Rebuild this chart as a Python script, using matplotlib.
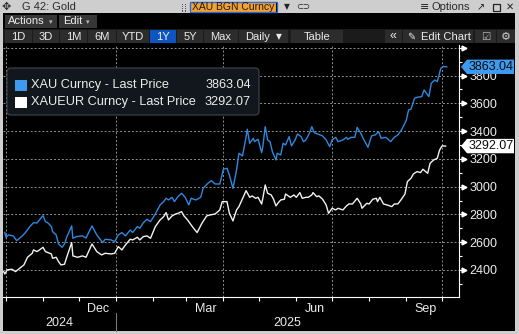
import matplotlib
matplotlib.use("Agg")
import matplotlib.pyplot as plt
import matplotlib.dates as mdates
import matplotlib.ticker as mticker
from matplotlib.colors import LinearSegmentedColormap
from matplotlib.patches import Rectangle, Polygon, FancyBboxPatch
from matplotlib.transforms import ScaledTranslation
import numpy as np
import pandas as pd

plt.rcParams['font.family'] = ['Liberation Sans', 'DejaVu Sans']

# ---------------------------------------------------------------- data
xau_dates = [
    "2024-09-30", "2024-10-01", "2024-10-03", "2024-10-07", "2024-10-10", "2024-10-14",
    "2024-10-17", "2024-10-21", "2024-10-24", "2024-10-27", "2024-10-29", "2024-11-01",
    "2024-11-03", "2024-11-05", "2024-11-08", "2024-11-09", "2024-11-12", "2024-11-14",
    "2024-11-17", "2024-11-19", "2024-11-21", "2024-11-25", "2024-11-26", "2024-11-29",
    "2024-12-04", "2024-12-07", "2024-12-12", "2024-12-16", "2024-12-18", "2024-12-21",
    "2024-12-23", "2024-12-28", "2024-12-31", "2025-01-03", "2025-01-06", "2025-01-09",
    "2025-01-13", "2025-01-15", "2025-01-19", "2025-01-21", "2025-01-24", "2025-01-27",
    "2025-01-30", "2025-02-03", "2025-02-07", "2025-02-10", "2025-02-12", "2025-02-14",
    "2025-02-17", "2025-02-19", "2025-02-22", "2025-02-25", "2025-02-28", "2025-03-03",
    "2025-03-05", "2025-03-09", "2025-03-13", "2025-03-15", "2025-03-19", "2025-03-22",
    "2025-03-25", "2025-03-29", "2025-04-01", "2025-04-04", "2025-04-06", "2025-04-09",
    "2025-04-12", "2025-04-14", "2025-04-17", "2025-04-20", "2025-04-21", "2025-04-23",
    "2025-04-26", "2025-04-27", "2025-04-30", "2025-05-03", "2025-05-04", "2025-05-06",
    "2025-05-08", "2025-05-10", "2025-05-12", "2025-05-15", "2025-05-16", "2025-05-19",
    "2025-05-21", "2025-05-23", "2025-05-26", "2025-05-28", "2025-05-31", "2025-06-02",
    "2025-06-05", "2025-06-07", "2025-06-09", "2025-06-12", "2025-06-14", "2025-06-16",
    "2025-06-19", "2025-06-23", "2025-06-26", "2025-06-29", "2025-07-01", "2025-07-04",
    "2025-07-06", "2025-07-10", "2025-07-13", "2025-07-14", "2025-07-17", "2025-07-20",
    "2025-07-22", "2025-07-25", "2025-07-27", "2025-07-31", "2025-08-03", "2025-08-06",
    "2025-08-09", "2025-08-11", "2025-08-15", "2025-08-19", "2025-08-22", "2025-08-25",
    "2025-08-28", "2025-09-01", "2025-09-03", "2025-09-05", "2025-09-08", "2025-09-10",
    "2025-09-14", "2025-09-16", "2025-09-20", "2025-09-22", "2025-09-25", "2025-09-27",
    "2025-09-30", "2025-10-02", "2025-10-05",
]
xau_values = [
    2670, 2635, 2652, 2645, 2611, 2640,
    2666, 2712, 2740, 2738, 2760, 2791,
    2748, 2740, 2712, 2676, 2652, 2587,
    2563, 2587, 2640, 2717, 2628, 2640,
    2645, 2630, 2717, 2652, 2630, 2597,
    2621, 2616, 2604, 2652, 2669, 2645,
    2688, 2669, 2712, 2700, 2740, 2765,
    2748, 2803, 2868, 2892, 2916, 2904,
    2923, 2892, 2928, 2952, 2923, 2868,
    2916, 2904, 2923, 2988, 3024, 3043,
    3019, 3019, 3125, 3132, 3084, 2988,
    3120, 3240, 3221, 3360, 3413, 3312,
    3348, 3324, 3341, 3245, 3288, 3432,
    3336, 3324, 3252, 3192, 3240, 3228,
    3312, 3300, 3360, 3293, 3336, 3379,
    3360, 3324, 3336, 3384, 3432, 3389,
    3379, 3365, 3336, 3288, 3336, 3355,
    3324, 3336, 3355, 3341, 3355, 3355,
    3427, 3384, 3348, 3283, 3365, 3372,
    3396, 3348, 3355, 3324, 3355, 3372,
    3408, 3475, 3552, 3557, 3636, 3643,
    3648, 3696, 3648, 3744, 3768, 3756,
    3852, 3865, 3863.04,
]

xaueur_dates = [
    "2024-09-29", "2024-09-30", "2024-10-02", "2024-10-06", "2024-10-09", "2024-10-10",
    "2024-10-14", "2024-10-16", "2024-10-19", "2024-10-23", "2024-10-24", "2024-10-27",
    "2024-10-29", "2024-11-01", "2024-11-03", "2024-11-05", "2024-11-08", "2024-11-09",
    "2024-11-12", "2024-11-14", "2024-11-16", "2024-11-19", "2024-11-21", "2024-11-25",
    "2024-11-26", "2024-11-30", "2024-12-04", "2024-12-07", "2024-12-12", "2024-12-16",
    "2024-12-20", "2024-12-23", "2024-12-28", "2024-12-31", "2025-01-03", "2025-01-06",
    "2025-01-09", "2025-01-13", "2025-01-15", "2025-01-19", "2025-01-21", "2025-01-24",
    "2025-01-27", "2025-01-30", "2025-02-03", "2025-02-07", "2025-02-10", "2025-02-12",
    "2025-02-14", "2025-02-17", "2025-02-20", "2025-02-22", "2025-02-25", "2025-02-27",
    "2025-03-02", "2025-03-06", "2025-03-10", "2025-03-14", "2025-03-18", "2025-03-21",
    "2025-03-25", "2025-03-29", "2025-03-31", "2025-04-04", "2025-04-06", "2025-04-09",
    "2025-04-12", "2025-04-14", "2025-04-18", "2025-04-20", "2025-04-23", "2025-04-25",
    "2025-04-28", "2025-04-30", "2025-05-03", "2025-05-04", "2025-05-06", "2025-05-08",
    "2025-05-11", "2025-05-13", "2025-05-15", "2025-05-17", "2025-05-19", "2025-05-22",
    "2025-05-23", "2025-05-27", "2025-05-30", "2025-06-01", "2025-06-04", "2025-06-06",
    "2025-06-09", "2025-06-11", "2025-06-14", "2025-06-15", "2025-06-18", "2025-06-20",
    "2025-06-23", "2025-06-26", "2025-06-28", "2025-07-01", "2025-07-04", "2025-07-06",
    "2025-07-10", "2025-07-13", "2025-07-15", "2025-07-18", "2025-07-22", "2025-07-25",
    "2025-07-26", "2025-07-30", "2025-08-01", "2025-08-04", "2025-08-07", "2025-08-08",
    "2025-08-10", "2025-08-13", "2025-08-16", "2025-08-20", "2025-08-22", "2025-08-25",
    "2025-08-28", "2025-08-31", "2025-09-02", "2025-09-05", "2025-09-07", "2025-09-10",
    "2025-09-13", "2025-09-15", "2025-09-19", "2025-09-21", "2025-09-24", "2025-09-27",
    "2025-09-29", "2025-10-01", "2025-10-04",
]
xaueur_values = [
    2388, 2371, 2400, 2405, 2388, 2395,
    2424, 2436, 2491, 2520, 2544, 2532,
    2544, 2563, 2532, 2525, 2515, 2484,
    2491, 2460, 2436, 2441, 2496, 2597,
    2501, 2491, 2501, 2491, 2587, 2532,
    2508, 2520, 2515, 2520, 2568, 2544,
    2580, 2621, 2616, 2635, 2616, 2640,
    2645, 2628, 2712, 2760, 2784, 2813,
    2760, 2789, 2803, 2808, 2820, 2789,
    2760, 2712, 2669, 2736, 2789, 2796,
    2803, 2832, 2892, 2892, 2808, 2753,
    2832, 2856, 2933, 2971, 2923, 2933,
    2916, 2923, 2875, 2916, 3012, 2952,
    2940, 2909, 2861, 2885, 2904, 2909,
    2947, 2923, 2940, 2923, 2957, 2916,
    2923, 2923, 2940, 2957, 2928, 2933,
    2909, 2868, 2808, 2844, 2832, 2844,
    2832, 2861, 2875, 2875, 2916, 2875,
    2844, 2880, 2875, 2909, 2916, 2892,
    2923, 2875, 2868, 2856, 2875, 2875,
    2909, 2947, 3036, 3060, 3091, 3108,
    3101, 3125, 3096, 3168, 3192, 3204,
    3264, 3293, 3292.07,
]

series_names = ["XAU Curncy - Last Price", "XAUEUR Curncy - Last Price"]
ticker_text = "XAU BGN Curncy"
window_title = "G 42: Gold"
range_buttons = ["1D", "3D", "1M", "6M", "YTD", "1Y", "5Y", "Max"]
active_range = "1Y"

# ---------------------------------------------------------------- style
W, H = 519, 334
BLUE_LINE = "#2e88df"
BLUE_TAG = "#3d9aee"
WHITE_LINE = "#f2f2f2"
TXT = "#ececec"
GRID = "#8b9296"

fig = plt.figure(figsize=(W / 100, H / 100), dpi=100)
fig.patch.set_facecolor("#cecece")

# window chrome, in pixel coordinates (y downwards)
ui = fig.add_axes([0, 0, 1, 1], zorder=0)
ui.axis("off")


def rect(axh, x0, y0, x1, y1, color, **kw):
    axh.add_patch(Rectangle((x0, y0), x1 - x0, y1 - y0, facecolor=color,
                            edgecolor=kw.pop("edgecolor", "none"), **kw))


rect(ui, 3, 13, 515, 331, "black")
cmap = LinearSegmentedColormap.from_list("panel", ["#22333f", "#121b22", "#040607"])
ui.imshow(np.linspace(0, 1, 256)[:, None], extent=(3, 515, 297, 45), cmap=cmap,
          aspect="auto", interpolation="bilinear")
ui.set_xlim(0, W)
ui.set_ylim(H, 0)

# title bar
ui.text(6, 6.5, "\u2725", ha="center", va="center", fontsize=8, color="#2a2a2a",
        family=["DejaVu Sans"])
ui.text(22, 6.8, window_title, ha="left", va="center", fontsize=8, color="#2a2a2a")
for gx in (181.5, 184.5):
    for gy in (3.5, 5.8, 8.1, 10.4):
        rect(ui, gx, gy, gx + 1.2, gy + 1.2, "#555555")
rect(ui, 190, 1.5, 277, 12, "#f6a12f", edgecolor="#2a6cd4", linewidth=1.0)
ui.text(191.5, 7, ticker_text, ha="left", va="center", fontsize=7.5, color="#1b1b1b")
ui.plot([275.5, 275.5], [3, 11], color="#111111", lw=0.8)
ui.text(287, 7, "\u25BC", ha="center", va="center", fontsize=5.5, color="#222222",
        family=["DejaVu Sans"])
ui.text(303, 7, "\u2282\u2283", ha="center", va="center", fontsize=6, color="#222222",
        family=["DejaVu Sans"])
ui.text(425, 7, "\u2261", ha="center", va="center", fontsize=8, color="#222222",
        family=["DejaVu Sans"])
ui.text(431, 6.8, "Options", ha="left", va="center", fontsize=8, color="#2a2a2a")
ui.text(481, 7, "\u2197", ha="center", va="center", fontsize=7, color="#222222",
        family=["DejaVu Sans"])
rect(ui, 493, 3.5, 500, 10.5, "none", edgecolor="#222222", linewidth=0.9)
ui.text(510, 7, "\u2715", ha="center", va="center", fontsize=7, color="#222222",
        family=["DejaVu Sans"])

# action row
rect(ui, 5, 15, 57, 28, "#363636")
ui.text(8, 21.5, "Actions", ha="left", va="center", fontsize=8, color=TXT)
ui.text(51, 22, "\u25BE", ha="center", va="center", fontsize=5, color="#bbbbbb",
        family=["DejaVu Sans"])
rect(ui, 59, 15, 97, 28, "#363636")
ui.text(63, 21.5, "Edit", ha="left", va="center", fontsize=8, color=TXT)
ui.text(88, 22, "\u25BE", ha="center", va="center", fontsize=5, color="#bbbbbb",
        family=["DejaVu Sans"])

# range row
rect(ui, 3, 29, 515, 43, "#1b1b1b")
btn_edges = [(5, 32), (33, 59), (60, 87), (88, 116), (117, 149), (150, 176), (177, 203), (204, 238)]
for (x0, x1), lab in zip(btn_edges, range_buttons):
    rect(ui, x0, 30, x1, 43, "#0f55c2" if lab == active_range else "#2c2c2c")
    ui.text((x0 + x1) / 2, 36.5, lab, ha="center", va="center", fontsize=8, color=TXT)
rect(ui, 239, 30, 288, 43, "#2c2c2c")
ui.text(245, 36.5, "Daily", ha="left", va="center", fontsize=8, color=TXT)
ui.text(279, 36.8, "\u25BC", ha="center", va="center", fontsize=5.5, color=TXT,
        family=["DejaVu Sans"])
rect(ui, 291, 30, 343, 43, "#2c2c2c")
ui.text(317, 36.5, "Table", ha="center", va="center", fontsize=8, color=TXT)
rect(ui, 385, 30, 402, 43, "#2c2c2c")
ui.text(393.5, 36.5, "\u00AB", ha="center", va="center", fontsize=9, color=TXT)
rect(ui, 403, 30, 473, 43, "#2c2c2c")
ui.text(411, 36.5, "\u270E", ha="center", va="center", fontsize=7, color=TXT,
        family=["DejaVu Sans"])
ui.text(421, 36.5, "Edit Chart", ha="left", va="center", fontsize=8, color=TXT)
rect(ui, 475, 30, 496, 43, "#2c2c2c")
ui.text(485.5, 36.5, "\u2611", ha="center", va="center", fontsize=7.5, color="#bbbbbb",
        family=["DejaVu Sans"])
rect(ui, 497, 30, 515, 43, "#2c2c2c")
ui.text(506, 36.5, "\u2699", ha="center", va="center", fontsize=8, color="#cccccc",
        family=["DejaVu Sans"])

# ---------------------------------------------------------------- chart
ax = fig.add_axes([3 / W, (H - 297) / H, 456 / W, 252 / H], zorder=2)
ax.set_facecolor("none")

xau_x = pd.to_datetime(xau_dates)
eur_x = pd.to_datetime(xaueur_dates)
ax.plot(xau_x, xau_values, color=BLUE_LINE, lw=1.0, zorder=3)
ax.plot(eur_x, xaueur_values, color=WHITE_LINE, lw=1.0, zorder=3)

x_lo = pd.Timestamp("2024-09-28 12:00")
x_hi = pd.Timestamp("2025-10-15 05:00")
ax.set_xlim(x_lo, x_hi)
ax.set_ylim(2205, 4020)

for s in ("top", "left"):
    ax.spines[s].set_visible(False)
for s in ("bottom", "right"):
    ax.spines[s].set_color("white")
    ax.spines[s].set_linewidth(0.8)

# price axis on the right
ax.yaxis.tick_right()
ax.yaxis.set_major_locator(mticker.MultipleLocator(200))
ax.yaxis.set_minor_locator(mticker.MultipleLocator(100))
ax.yaxis.set_major_formatter(mticker.FuncFormatter(lambda v, p: f"{v:.0f}" if v <= 3800 else ""))
ax.tick_params(axis="y", which="major", length=4, width=0.8, color="white",
               pad=3.5, labelsize=9, labelcolor=TXT)
ax.tick_params(axis="y", which="minor", length=2.2, width=0.8, color="white")
ax.yaxis.grid(True, which="major", color=GRID, linestyle=(0, (2, 2)), linewidth=0.7)
ax.set_axisbelow(True)

lo, hi = ax.get_ylim()
major_y = [v for v in ax.yaxis.get_majorticklocs() if lo <= v <= hi]
tri_tf = ax.get_yaxis_transform() + ScaledTranslation(4.5 / 100, 0, fig.dpi_scale_trans)
ax.plot([1.0] * len(major_y), major_y, ls="none", marker=">", ms=3.5, color="white",
        mec="white", transform=tri_tf, clip_on=False)

# date axis
ax.xaxis.set_major_locator(mdates.MonthLocator())
ax.xaxis.set_major_formatter(mticker.NullFormatter())
ax.xaxis.set_minor_locator(mdates.MonthLocator(bymonth=(3, 6, 9, 12), bymonthday=17))
ax.xaxis.set_minor_formatter(mdates.DateFormatter("%b"))
ax.tick_params(axis="x", which="major", length=3, width=0.8, color="white")
ax.tick_params(axis="x", which="minor", length=0, pad=4, labelsize=9, labelcolor=TXT)

for q in pd.date_range("2024-10-01", "2025-10-01", freq="QS"):
    ax.axvline(q, color=GRID, linestyle=(0, (2, 2)), linewidth=0.7, zorder=1)

# year band
xt = ax.get_xaxis_transform()
year_break = pd.Timestamp("2025-01-01")
ax.text(x_lo + (year_break - x_lo) / 2, -0.103, "2024", transform=xt, ha="center",
        va="center", fontsize=9, color=TXT)
ax.text(year_break + (x_hi - year_break) / 2, -0.103, "2025", transform=xt, ha="center",
        va="center", fontsize=9, color=TXT)
ax.plot([year_break, year_break], [-0.063, -0.135], transform=xt, clip_on=False,
        color="#777777", lw=0.8)

# ---------------------------------------------------------------- overlay (legend, price tags)
hud = fig.add_axes([0, 0, 1, 1], zorder=5)
hud.set_facecolor("none")
hud.axis("off")
hud.set_xlim(0, W)
hud.set_ylim(H, 0)

hud.add_patch(FancyBboxPatch((7, 68), 252, 47, boxstyle="round,pad=0,rounding_size=4",
                             facecolor="#11171c", edgecolor="#3c4146", linewidth=0.9))
last_xau = xau_values[-1]
last_eur = xaueur_values[-1]
for (yc, sq, name, val) in ((85, BLUE_TAG, series_names[0], last_xau),
                            (102, "white", series_names[1], last_eur)):
    rect(hud, 15, yc - 5.5, 27, yc + 5.5, sq)
    hud.text(31, yc, name, ha="left", va="center", fontsize=9.2, color=TXT)
    hud.text(251, yc, f"{val:.2f}", ha="right", va="center", fontsize=9.2, color=TXT)

axis_px = ax.transAxes.transform((1, 0))[0]


def price_tag(value, face):
    yc = H - ax.transData.transform((0, value))[1]
    x_tip = axis_px + 2
    x_body = axis_px + 8
    x_end = 514
    half = 7.2
    hud.add_patch(Polygon([(x_tip, yc), (x_body, yc - half), (x_end, yc - half),
                           (x_end, yc + half), (x_body, yc + half)], closed=True,
                          facecolor=face, edgecolor="none"))
    hud.text((x_body + x_end) / 2 + 0.5, yc + 0.3, f"{value:.2f}", ha="center",
             va="center", fontsize=9, color="#0b0b0b")


price_tag(last_xau, BLUE_TAG)
price_tag(last_eur, "white")

fig.savefig("out.png", dpi=100, facecolor=fig.get_facecolor())
